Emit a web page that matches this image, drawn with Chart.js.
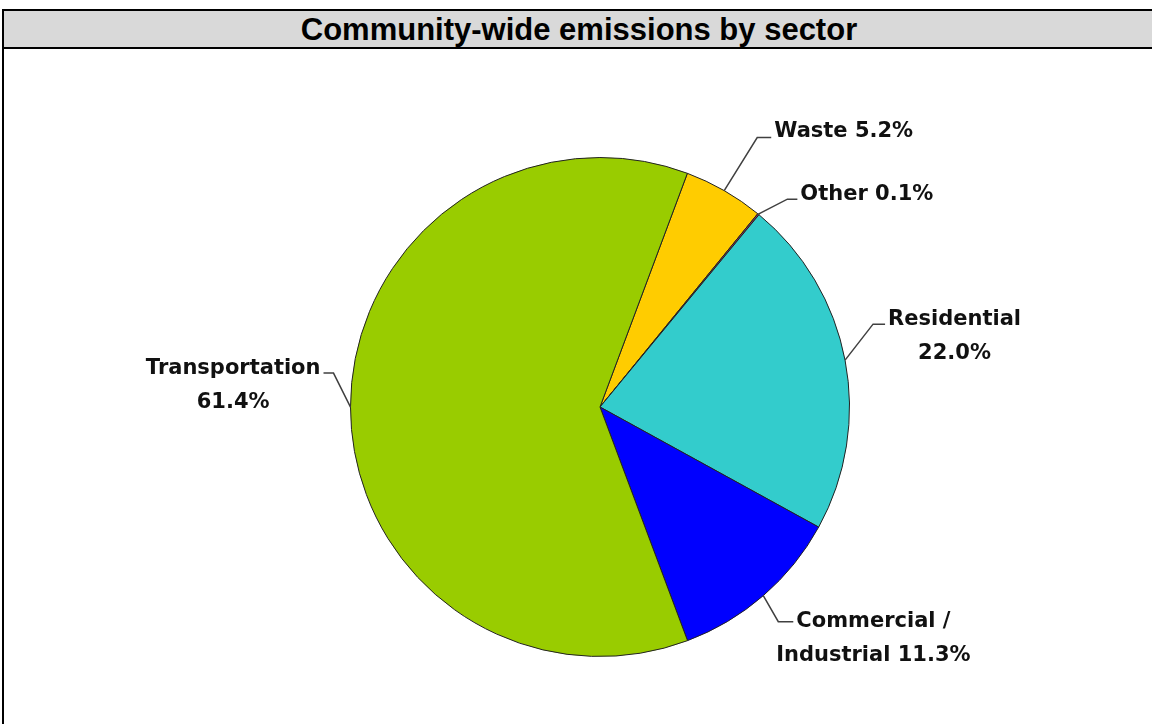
<!DOCTYPE html>
<html lang="en">
<head>
<meta charset="UTF-8">
<title>Community-wide emissions by sector</title>
<style>
    body {
        margin: 0;
        background: #fff;
        width: 1152px;
        height: 724px;
        overflow: hidden;
        position: relative;
        font-family: "Liberation Sans", Arial, sans-serif;
    }
    .frame {
        position: absolute;
        left: 2px;
        top: 9px;
        width: 1250px;
        height: 730px;
        border-left: 2px solid #000;
        border-top: 2px solid #000;
    }
    .title {
        height: 36px;
        width: 1150px;
        background: #d9d9d9;
        border-bottom: 2px solid #000;
        padding-right: 100px;
        text-align: center;
        font-weight: bold;
        font-size: 31px;
        line-height: 38px;
        color: #000;
    }
    #chart {
        position: absolute;
        left: 0;
        top: 0;
    }
</style>
<script src="https://cdn.jsdelivr.net/npm/chart.js"></script>
</head>
<body>

<div class="frame">
    <div class="title">Community-wide emissions by sector</div>
</div>
<canvas id="chart" width="1152" height="724"></canvas>

<script>
    // Sector shares (percent), clockwise starting just right of 12 o'clock
    const categories = ['Waste', 'Other', 'Residential', 'Commercial / Industrial', 'Transportation'];
    const shares = [5.2, 0.1, 22.0, 11.3, 61.4];
    const sliceColors = ['#FFCC00', '#993366', '#33CCCC', '#0000FF', '#99CC00'];

    // Leader line shape for each label: elbow offset from the slice edge,
    // horizontal run to the text, and how many words go on the first line (0 = one line)
    const labelLayout = [
        { elbow: [33, -53], run: 14, firstLine: 0, dy: -1 },
        { elbow: [29, -15], run: 10, firstLine: 0, dy: 1 },
        { elbow: [28, -36], run: 12, firstLine: 1, dy: 1 },
        { elbow: [15, 26], run: 15, firstLine: 2, dy: 5 },
        { elbow: [-17, -34], run: -10, firstLine: 1, dy: 1 }
    ];

    function labelLines(i) {
        const words = (categories[i] + ' ' + shares[i].toFixed(1) + '%').split(' ');
        const n = labelLayout[i].firstLine;
        if (!n) return [words.join(' ')];
        return [words.slice(0, n).join(' '), words.slice(n).join(' ')];
    }

    // Draws the outside labels with leader lines
    const leaderLabels = {
        id: 'leaderLabels',
        afterDatasetsDraw(chart) {
            const ctx = chart.ctx;
            const meta = chart.getDatasetMeta(0);
            ctx.save();
            ctx.font = 'bold 21px "DejaVu Sans", sans-serif';
            ctx.textBaseline = 'alphabetic';
            meta.data.forEach(function (arc, i) {
                const p = arc.getProps(['x', 'y', 'startAngle', 'endAngle', 'outerRadius'], true);
                const mid = (p.startAngle + p.endAngle) / 2;
                const ex = p.x + Math.cos(mid) * p.outerRadius;
                const ey = p.y + Math.sin(mid) * p.outerRadius;
                const lay = labelLayout[i];
                const bx = ex + lay.elbow[0];
                const by = ey + lay.elbow[1];
                const tx = bx + lay.run;

                ctx.strokeStyle = '#404040';
                ctx.lineWidth = 1.5;
                ctx.beginPath();
                ctx.moveTo(ex, ey);
                ctx.lineTo(bx, by);
                ctx.lineTo(tx, by);
                ctx.stroke();

                const lines = labelLines(i);
                const w0 = ctx.measureText(lines[0]).width;
                const gap = 3;
                const cx = lay.run > 0 ? tx + gap + w0 / 2 : tx - gap - w0 / 2;
                ctx.fillStyle = '#111';
                ctx.textAlign = 'center';
                lines.forEach(function (line, k) {
                    ctx.fillText(line, cx, by + lay.dy + k * 34);
                });
            });
            ctx.restore();
        }
    };

    new Chart(document.getElementById('chart').getContext('2d'), {
        type: 'pie',
        data: {
            labels: categories,
            datasets: [{
                data: shares,
                backgroundColor: sliceColors,
                borderColor: '#222',
                borderWidth: 1
            }]
        },
        options: {
            responsive: false,
            animation: false,
            rotation: 20.5,
            layout: {
                padding: { left: 350, right: 302, top: 157, bottom: 67 }
            },
            plugins: {
                legend: { display: false },
                tooltip: { enabled: false }
            }
        },
        plugins: [leaderLabels]
    });
</script>

</body>
</html>
